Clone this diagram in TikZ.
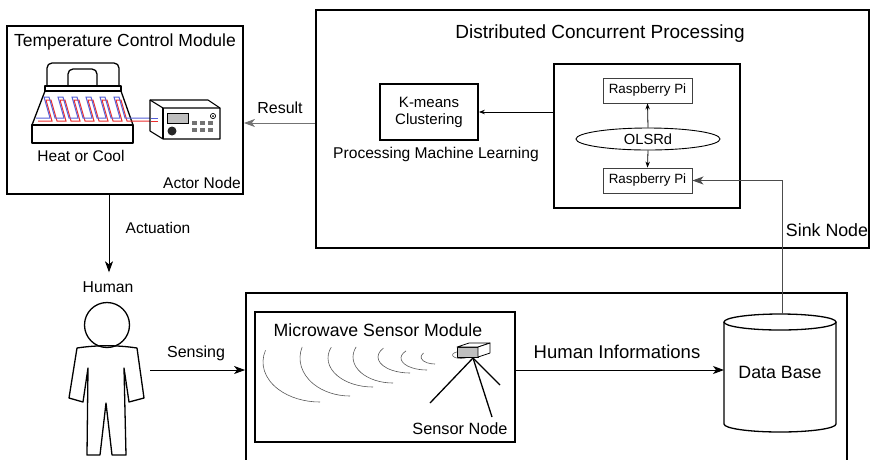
\documentclass[tikz,border=0pt]{standalone}
\usepackage{fontspec}
\setmainfont{Liberation Sans}
\usetikzlibrary{arrows.meta,shapes.geometric}
\definecolor{coilblue}{RGB}{85,95,215}
\definecolor{coilred}{RGB}{235,45,45}
\newcommand\fsz[1]{\fontsize{#1pt}{#1pt}\selectfont}
\begin{document}
\begin{tikzpicture}[x=1pt,y=-1pt,
  box/.style={draw,line width=1.8pt,inner sep=0pt},
  thinbox/.style={draw=black!75,line width=0.9pt,inner sep=0pt},
  lbl/.style={inner sep=0pt},
  conn/.style={line width=1pt,-{Stealth[length=11pt,width=8pt,inset=3pt]}},
  small/.style={line width=0.8pt,-{Stealth[length=6pt,width=4.5pt,inset=2pt]}},
  wave/.style={draw=black!65,line width=0.6pt},
  figure/.style={line width=1.3pt,line join=round}
]
\useasboundingbox (0,0) rectangle (872,459);
\clip (0,0) rectangle (872,459);

% ---------- main boxes ----------
\node[box,minimum width=236,minimum height=168] (tcm) at (125,110) {};
\node[box,minimum width=553,minimum height=238] (dcp) at (592.5,129) {};
\node[box,minimum width=98,minimum height=56,align=center,
      font=\fontsize{15pt}{17pt}\selectfont] (km) at (429,112) {K-means\\Clustering};
\node[box,minimum width=186,minimum height=144] (inner) at (647,136) {};
\node[thinbox,minimum width=89,minimum height=25,font=\fsz{13.4}] (rpi1) at (647.5,90.5) {Raspberry Pi};
\node[thinbox,minimum width=89,minimum height=25,font=\fsz{13.4}] (rpi2) at (647.5,180.5) {Raspberry Pi};
\node[draw,line width=0.9pt,ellipse,minimum width=144,minimum height=22,inner sep=0pt,font=\fsz{14.7}] (olsr) at (648,139) {OLSRd};
\node[box,minimum width=601,minimum height=177] (bot) at (546.5,381.5) {};
\node[draw,line width=1.4pt,minimum width=260,minimum height=130,inner sep=0pt] (mw) at (385,377) {};

% ---------- labels ----------
\node[lbl,font=\fsz{17.5}] (tcmt) at (125,42) {Temperature Control Module};
\node[lbl,font=\fsz{15.5}] (heat) at (81,156) {Heat or Cool};
\node[lbl,font=\fsz{15.5}] (actor) at (202,183) {Actor Node};
\node[lbl,font=\fsz{16}] (res) at (280,108) {Result};
\node[lbl,font=\fsz{15.5}] (act) at (158,228) {Actuation};
\node[lbl,font=\fsz{15.7}] (hum) at (108,287) {Human};
\node[lbl,font=\fsz{16}] (sens) at (196,353) {Sensing};
\node[lbl,font=\fsz{19}] (dcpt) at (600,34) {Distributed Concurrent Processing};
\node[lbl,font=\fsz{15.6}] (pml) at (436,154) {Processing Machine Learning};
\node[lbl,font=\fsz{17.8}] (sink) at (827,230) {Sink Node};
\node[lbl,font=\fsz{17.7}] (mwt) at (378,330) {Microwave Sensor Module};
\node[lbl,font=\fsz{18.5}] (hinfo) at (617,352) {Human Informations};
\node[lbl,font=\fsz{16.3}] (snode) at (460,429) {Sensor Node};

% ---------- data base cylinder ----------
\draw[line width=1.3pt,fill=white] (724,322) -- (724,424) arc[start angle=180,end angle=0,x radius=56,y radius=8]
  -- (836,322);
\draw[line width=1.3pt,fill=white] (780,322) ellipse[x radius=56,y radius=8];
\node[lbl,font=\fsz{17.8}] (db) at (780,372) {Data Base};
\coordinate (dbtop) at (782,314);
\coordinate (dbleft) at (724,370);

% ---------- bed ----------
\begin{scope}[line width=1.3pt,line join=round]
  \draw[rounded corners=5pt] (47,86) -- (47,63) -- (119,63) -- (119,86);
  \draw[rounded corners=5pt] (68,86) -- (68,69) -- (97,69) -- (97,86);
  \draw (45,86) rectangle (121,91);
  \draw (45,91) -- (32,125) -- (133,125) -- (121,91);
  \draw (32,125) rectangle (133,143);
\end{scope}
% heating / cooling coils
\draw[draw=coilred,line width=1pt] (38,121)
  \foreach \i in {0,...,5} { -- ({52+14*\i},121) -- ({46+14*\i},100) -- ({51+14*\i},100) -- ({57+14*\i},121) }
  -- (158,121);
\draw[draw=coilblue,line width=1pt] (36,118)
  \foreach \i in {0,...,5} { -- ({50+14*\i},118) -- ({44+14*\i},97) -- ({49+14*\i},97) -- ({55+14*\i},118) }
  -- (158,118);

% ---------- controller device ----------
\begin{scope}[line width=1.1pt,line join=round]
  \draw[fill=white] (150,100) -- (208,100) -- (220,108) -- (220,139) -- (163,139) -- (150,131) -- cycle;
  \draw (150,100) -- (163,108) -- (220,108);
  \draw (163,108) -- (163,139);
\end{scope}
\draw[draw=coilred,line width=1pt] (151,121) -- (158,121);
\draw[draw=coilblue,line width=1pt] (151,118) -- (158,118);
\draw[fill=black!25,line width=0.8pt] (167,113) rectangle (188,123);
\fill[black!85] (172,131) circle (4.5);
\foreach \x in {192,200,208} \foreach \y in {121,128} \fill[black!55] (\x,\y) rectangle ++(5,4);
\draw[line width=0.7pt] (213,116) circle (2.6);
\fill (213,116) circle (1);

% ---------- human figure ----------
\draw[figure] (107,325) circle (22.5);
\draw[figure] (77,348) -- (69,398) -- (83,402) -- (88,368) -- (87,455) -- (100,455) -- (106,403)
  -- (112,455) -- (126,455) -- (124,368) -- (129,402) -- (144,398) -- (137,348)
  .. controls (117,345) and (97,345) .. cycle;
\coordinate (hand) at (150,370);
\coordinate (ax) at (109,0);

% ---------- microwave waves ----------
\foreach \cx/\cy/\rx/\ry/\sa in {320/362/57/40/197, 350/358/50/38/197, 373/358/45/29/202,
    393/357/40/26/203, 410/357/32/16/214, 427/358/26/12/216, 435/357/14/7/215}
  \draw[wave] ({\cx+\rx*cos(\sa)},{\cy+\ry*sin(\sa)}) arc[start angle=\sa,end angle=90,x radius=\rx,y radius=\ry];

% ---------- sensor on tripod ----------
\draw[black!60,line width=0.6pt] (461,355) ellipse[x radius=8.5,y radius=3.5];
\begin{scope}[line width=0.8pt,line join=round]
  \draw[fill=black!25] (457,347) rectangle (478,357);
  \draw[fill=white] (457,347) -- (469,343) -- (490,343) -- (478,347) -- cycle;
  \draw[fill=white] (478,347) -- (490,343) -- (490,353) -- (478,357) -- cycle;
\end{scope}
\coordinate (apex) at (473,358);
\draw[line width=1.3pt] (apex) -- (430,403);
\draw[line width=1.3pt] (apex) -- (492,417);
\draw[line width=1.3pt] (apex) -- (500,385);

% ---------- connectors ----------
\coordinate (ry) at (0,123);
\draw[conn,draw=black!55] (dcp.west |- ry) -- (tcm.east |- ry);
\draw[conn] (tcm.south -| ax) -- ([yshift=9pt]hum.north -| ax);
\draw[conn] (hand) -- (bot.west |- hand);
\draw[conn] (mw.east |- dbleft) -- (dbleft);
\draw[conn,draw=black!70] (dbtop) |- (rpi2.east);
\draw[small] (inner.west |- km.east) -- (km.east);
\draw[small] (olsr.north) -- (rpi1.south);
\draw[small] (olsr.south) -- (rpi2.north);
\end{tikzpicture}
\end{document}
